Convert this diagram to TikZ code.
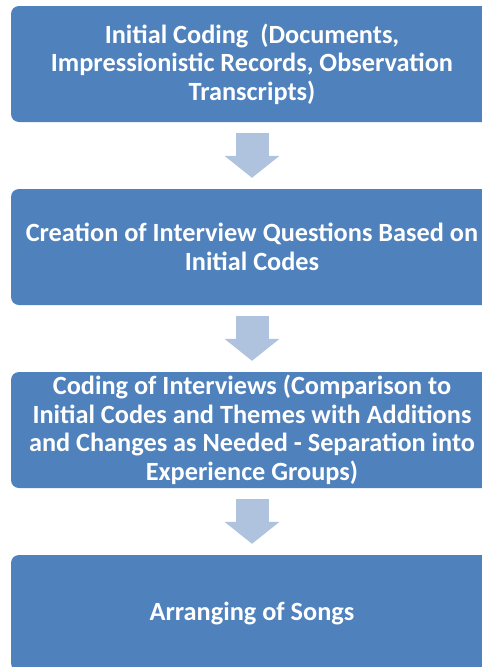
\documentclass[tikz,border=0pt]{standalone}
\usepackage{fontspec}
\setmainfont{Carlito}
\usepackage{xcolor}
\usetikzlibrary{positioning,calc,arrows.meta}
\definecolor{boxblue}{HTML}{4F81BD}
\definecolor{arrowblue}{HTML}{B0C3DE}
\tikzset{d/.style={line width=33pt, draw=arrowblue, -{Triangle[width=54pt,length=22pt]}}}

\begin{document}
\begin{tikzpicture}[x=1pt,y=-1pt,
box/.style={rectangle, rounded corners=8pt, fill=boxblue, text=white, minimum width=482pt, minimum height=116pt, align=center, inner sep=0pt, font=\fontsize{26.3}{28.5}\selectfont\bfseries},
]
\useasboundingbox (0,0) rectangle (482,667);
\clip (0,0) rectangle (482,667);
\node[box] (A) at(252,64) {Initial Coding\ \ (Documents,\\Impressionistic Records, Observation\\Transcripts)};
\node[box] (B) at(252,247) {Creation of Interview Questions Based on\\Initial Codes};
\node[box] (C) at(252,430) {Coding of Interviews (Comparison to\\Initial Codes and Themes with Additions\\and Changes as Needed - Separation into\\Experience Groups)};
\node[box] (D) at(252,613) {Arranging of Songs};
\draw[d] ($(A.south)+(0,11)$) -- ($(B.north)+(0,-11)$);
\draw[d] ($(B.south)+(0,11)$) -- ($(C.north)+(0,-11)$);
\draw[d] ($(C.south)+(0,11)$) -- ($(D.north)+(0,-11)$);
\end{tikzpicture}
\end{document}
